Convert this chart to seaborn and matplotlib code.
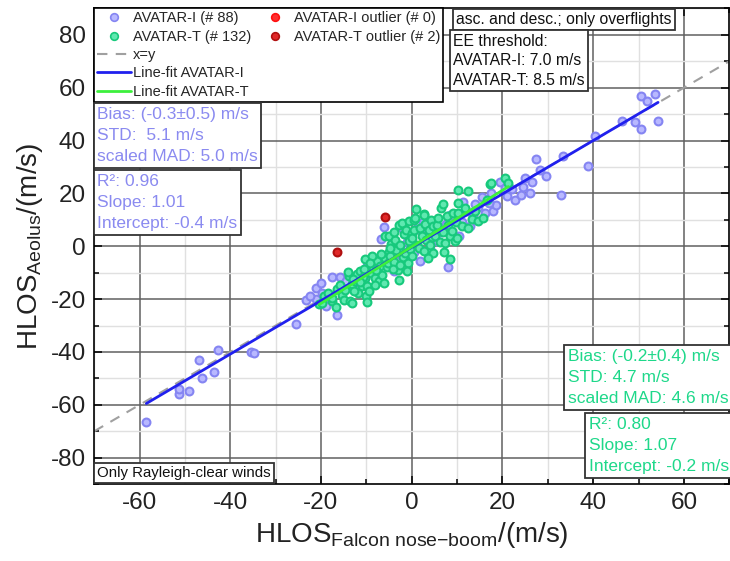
import numpy as np
import seaborn as sns
import matplotlib.pyplot as plt
from matplotlib.lines import Line2D
from matplotlib.ticker import MultipleLocator

# HLOS Falcon nose-boom (x) vs HLOS Aeolus (y)
avatar_i_x = [-58.5, -51.2, -51.2, -49.0, -46.8, -46.2, -43.5, -42.8, -35.5, -34.7,
              -25.6, -23.4, -21.2, -21.2, -19.8, -17.6, -15.7, -16.4, -22.5, -18.5,
              -11.6, -9.9, -6.2, -6.7, -2.2, -2.2, -5.0, 1.9, 8.1, 8.5,
              12.9, 11.4, 14.7, -13.0, -8.0, -3.5, 0.5, 3.0, 5.5, 6.5,
              9.5, 11.0, 13.5, -1.0, -12.0, -4.0, 2.5, 10.5,
              16.2, 17.5, 18.0, 18.5, 19.5, 20.5, 22.8, 24.0, 25.0, 26.1,
              27.5, 28.3, 33.0, 33.4, 38.9, 40.4, 46.4, 49.2, 50.6, 50.6,
              51.9, 53.6, 54.3, 22.0, 21.0, 17.0, 15.5, 26.5, 24.5, 29.5,
              -7.0, -14.5, 4.0, 7.5, 12.0, -10.5, 1.0, -19.0, -20.0, 14.0]
avatar_i_y = [-66.4, -56.0, -54.0, -54.8, -43.0, -49.8, -47.5, -39.3, -40.0, -40.3,
              -29.4, -20.5, -20.0, -15.6, -17.6, -11.7, -11.7, -26.0, -19.0, -19.5,
              -10.1, -7.6, 7.2, 2.8, 6.9, -1.9, -4.2, -5.7, -7.9, 12.0,
              7.6, 16.8, 14.7, -14.0, -11.0, -5.5, -2.0, 4.5, 2.0, 5.5,
              10.5, 9.0, 12.0, 1.5, -16.5, -9.5, 9.0, 4.0,
              12.6, 20.1, 13.5, 15.5, 24.3, 22.0, 17.6, 19.5, 25.8, 20.1,
              33.1, 29.0, 19.5, 34.0, 30.2, 41.6, 47.5, 46.9, 44.3, 56.7,
              54.8, 57.6, 47.3, 21.5, 19.0, 16.5, 18.5, 24.5, 22.5, 26.5,
              -6.0, -13.0, -1.0, 8.5, 13.5, -13.0, 6.5, -22.5, -14.0, 16.0]

avatar_t_x = [-20.4, -19.3, -17.5, -17.5, -15.3, -16.5, -18.5, -15.8, -16.8, -19.8, -14.8, -15.0,
              -13.8, -13.2, -13.5, -13.1, -12.5, -12.0, -11.3, -11.0, -10.2, -10.2, -10.5, -11.8,
              -12.8, -14.0, -10.8, -13.0, -10.0, -11.5,
              -9.8, -9.8, -9.5, -9.0, -8.5, -8.0, -7.6, -7.3, -7.0, -6.5, -6.2, -6.0,
              -5.8, -5.5, -5.1, -5.0, -8.8, -7.8, -9.2, -6.8, -5.3, -8.2,
              -4.7, -4.5, -4.0, -3.6, -3.5, -3.0, -2.9, -2.9, -2.5, -2.2, -2.0, -1.8,
              -1.5, -1.2, -0.7, -0.8, -0.5, -0.3, 0.0, -4.2, -3.8, -1.0, -2.6, -4.8,
              0.1, 0.1, 0.4, 0.4, 0.8, 1.2, 1.5, 1.8, 2.2, 2.6, 2.6,
              2.6, 3.0, 3.2, 3.7, 4.0, 4.3, 4.5, 4.8, 4.8, 1.0, 3.5,
              5.2, 5.5, 5.9, 6.3, 6.5, 7.0, 7.4, 7.8, 8.1, 8.5, 8.5, 8.9,
              9.2, 9.5, 10.0, 6.8, 9.8, 7.2,
              10.2, 10.3, 10.3, 11.0, 12.4, 12.5, 13.3, 14.0, 14.7, 11.8,
              15.8, 16.6, 17.3, 17.5, 20.6, 21.3]
avatar_t_y = [-22.0, -18.9, -20.8, -19.5, -18.5, -16.2, -17.5, -14.5, -23.0, -21.5, -16.5, -20.5,
              -11.3, -14.4, -20.8, -21.4, -13.0, -10.5, -9.5, -15.0, -12.0, -5.0, -8.5, -17.5,
              -16.8, -9.8, -11.5, -12.2, -19.0, -13.5,
              -15.1, -21.0, -17.0, -10.0, -8.0, -12.0, -5.7, -13.2, -7.5, -10.7, -13.9, -4.5,
              3.8, -8.0, 3.8, -2.0, -3.5, -9.0, -6.5, -3.0, -6.2, -14.5,
              -3.8, 1.0, -6.0, 2.5, -1.5, -9.0, 8.2, -12.6, 0.5, 8.8, -4.0, 4.5,
              -2.5, 6.0, 9.5, -6.5, 2.0, -1.0, 5.0, -8.5, 5.5, -9.5, -7.0, -0.5,
              3.1, -3.8, 10.1, 6.3, 10.7, 0.6, -0.5, 7.0, 4.0, 12.2, -1.9,
              12.0, 8.5, 2.5, 6.3, 0.5, 10.0, 3.5, -2.5, 7.5, 14.0, -4.5,
              3.8, 8.0, 10.7, 1.5, 14.5, 5.5, 1.2, 11.5, 8.2, -5.0, 4.0, 5.7,
              12.5, 2.0, 3.1, 16.0, 9.0, -2.0,
              21.4, 16.4, 12.6, 7.5, 20.8, 6.9, 10.5, 13.5, 9.5, 14.5,
              10.7, 17.6, 23.7, 23.9, 25.8, 23.9]

outlier_t_x = [-5.9, -16.4]
outlier_t_y = [10.9, -2.0]

# linear fits (slope, intercept)
fit_i = (1.01, -0.4)
fit_t = (1.07, -0.2)

stats_i = ["Bias: (-0.3±0.5) m/s", "STD:  5.1 m/s", "scaled MAD: 5.0 m/s"]
reg_i = ["R²: 0.96", "Slope: 1.01", "Intercept: -0.4 m/s"]
stats_t = ["Bias: (-0.2±0.4) m/s", "STD: 4.7 m/s", "scaled MAD: 4.6 m/s"]
reg_t = ["R²: 0.80", "Slope: 1.07", "Intercept: -0.2 m/s"]

blue_face = "#b8b8ff"
blue_edge = "#8585f2"
green_face = "#5fe8b0"
green_edge = "#17c97c"
blue_txt = "#8a8af0"
green_txt = "#1ed88a"

sns.set_theme(style="white")
plt.rcParams["font.family"] = ["Liberation Sans", "DejaVu Sans"]
plt.rcParams["axes.unicode_minus"] = False
plt.rcParams["mathtext.fontset"] = "custom"
plt.rcParams["mathtext.rm"] = "Liberation Sans"
plt.rcParams["mathtext.it"] = "Liberation Sans:italic"

fig = plt.figure(figsize=(7.3, 5.61), dpi=100)
ax = fig.add_axes([0.129, 0.137, 0.870, 0.848])

# x=y
lim = np.array([-70, 70])
ax.plot(lim, lim, color="#a0a0a0", lw=1.5, ls=(0, (5, 4)), zorder=2)

sns.scatterplot(x=avatar_i_x, y=avatar_i_y, ax=ax, s=32, color=blue_face,
                edgecolor=blue_edge, linewidth=1.5, zorder=3, legend=False)
sns.scatterplot(x=avatar_t_x, y=avatar_t_y, ax=ax, s=32, color=green_face,
                edgecolor=green_edge, linewidth=1.5, zorder=4, legend=False)
sns.scatterplot(x=outlier_t_x, y=outlier_t_y, ax=ax, s=32, color="#e02828",
                edgecolor="#b01010", linewidth=1.5, zorder=4, legend=False)

xi = np.array([min(avatar_i_x), max(avatar_i_x)])
xt = np.array([min(avatar_t_x), max(avatar_t_x)])
sns.lineplot(x=xi, y=fit_i[0] * xi + fit_i[1], ax=ax, color="#2020ee", lw=2, zorder=5)
sns.lineplot(x=xt, y=fit_t[0] * xt + fit_t[1], ax=ax, color="#3cf03c", lw=2, zorder=6)

ax.set_xlim(-70, 70)
ax.set_ylim(-90, 90)
ax.xaxis.set_minor_locator(MultipleLocator(10))
ax.yaxis.set_minor_locator(MultipleLocator(10))
ax.set_xticks(np.arange(-60, 61, 20))
ax.set_yticks(np.arange(-80, 81, 20))
ax.grid(which="major", color="#606060", lw=1.1)
ax.grid(which="minor", color="#e0e0e0", lw=1.0)
ax.set_axisbelow(True)
ax.tick_params(which="both", direction="in", top=True, right=True, bottom=True, left=True,
               color="black", width=1.1)
ax.tick_params(which="major", length=6, labelsize=17.5, pad=6, labelcolor="#222222")
ax.tick_params(which="minor", length=3.5)
for sp in ax.spines.values():
    sp.set_color("black")
    sp.set_linewidth(1.2)

ax.set_xlabel(r"HLOS$_{\mathrm{Falcon\ nose{-}boom}}$/(m/s)", fontsize=20, color="#222222", labelpad=4)
ax.set_ylabel(r"HLOS$_{\mathrm{Aeolus}}$/(m/s)", fontsize=20, color="#222222", labelpad=4)

# legend
mk = dict(marker="o", linestyle="none", markersize=5.5, markeredgewidth=1.2)
handles = [
    Line2D([], [], markerfacecolor=blue_face, markeredgecolor=blue_edge, **mk),
    Line2D([], [], markerfacecolor=green_face, markeredgecolor=green_edge, **mk),
    Line2D([], [], color="#a0a0a0", lw=1.5, ls=(0, (5, 4))),
    Line2D([], [], color="#2020ee", lw=2),
    Line2D([], [], color="#3cf03c", lw=2),
    Line2D([], [], markerfacecolor="#ff3030", markeredgecolor="#ff1010", **mk),
    Line2D([], [], markerfacecolor="#e02828", markeredgecolor="#b01010", **mk),
    Line2D([], [], linestyle="none"),
    Line2D([], [], linestyle="none"),
    Line2D([], [], linestyle="none"),
]
labels = ["AVATAR-I (# 88)", "AVATAR-T (# 132)", "x=y", "Line-fit AVATAR-I", "Line-fit AVATAR-T",
          "AVATAR-I outlier (# 0)", "AVATAR-T outlier (# 2)", "", "", ""]
leg = ax.legend(handles, labels, ncol=2, loc="upper left", bbox_to_anchor=(0, 1),
                borderaxespad=0, fontsize=10.5, frameon=True, fancybox=False, framealpha=1,
                edgecolor="black", handlelength=2.3, handletextpad=0.15, columnspacing=0.5,
                labelspacing=0.3, borderpad=0.2)
leg.get_frame().set_linewidth(1.2)
leg.set_zorder(10)

box = dict(boxstyle="square,pad=0.2", facecolor="white", edgecolor="#333333", lw=1.3)
ax.text(0.570, 0.993, "asc. and desc.; only overflights", transform=ax.transAxes,
        ha="left", va="top", fontsize=11.3, color="#111111", bbox=box, zorder=11)
ax.text(0.5655, 0.947, "EE threshold:\nAVATAR-I: 7.0 m/s\nAVATAR-T: 8.5 m/s", transform=ax.transAxes,
        ha="left", va="top", fontsize=11.3, color="#111111", bbox=box, zorder=11, linespacing=1.4)
ax.text(0.0045, 0.793, "\n".join(stats_i), transform=ax.transAxes, ha="left", va="top",
        fontsize=12.5, color=blue_txt, bbox=box, zorder=11, linespacing=1.52)
ax.text(0.0045, 0.652, "\n".join(reg_i), transform=ax.transAxes, ha="left", va="top",
        fontsize=12.5, color=blue_txt, bbox=box, zorder=11, linespacing=1.52)
ax.text(0.7457, 0.2847, "\n".join(stats_t), transform=ax.transAxes, ha="left", va="top",
        fontsize=12.5, color=green_txt, bbox=box, zorder=11, linespacing=1.52)
ax.text(0.7787, 0.1418, "\n".join(reg_t), transform=ax.transAxes, ha="left", va="top",
        fontsize=12.5, color=green_txt, bbox=box, zorder=11, linespacing=1.52)
ax.text(0.0045, 0.008, "Only Rayleigh-clear winds", transform=ax.transAxes, ha="left", va="bottom",
        fontsize=10.8, color="#111111", bbox=box, zorder=11)

fig.savefig("out.png", dpi=100)
